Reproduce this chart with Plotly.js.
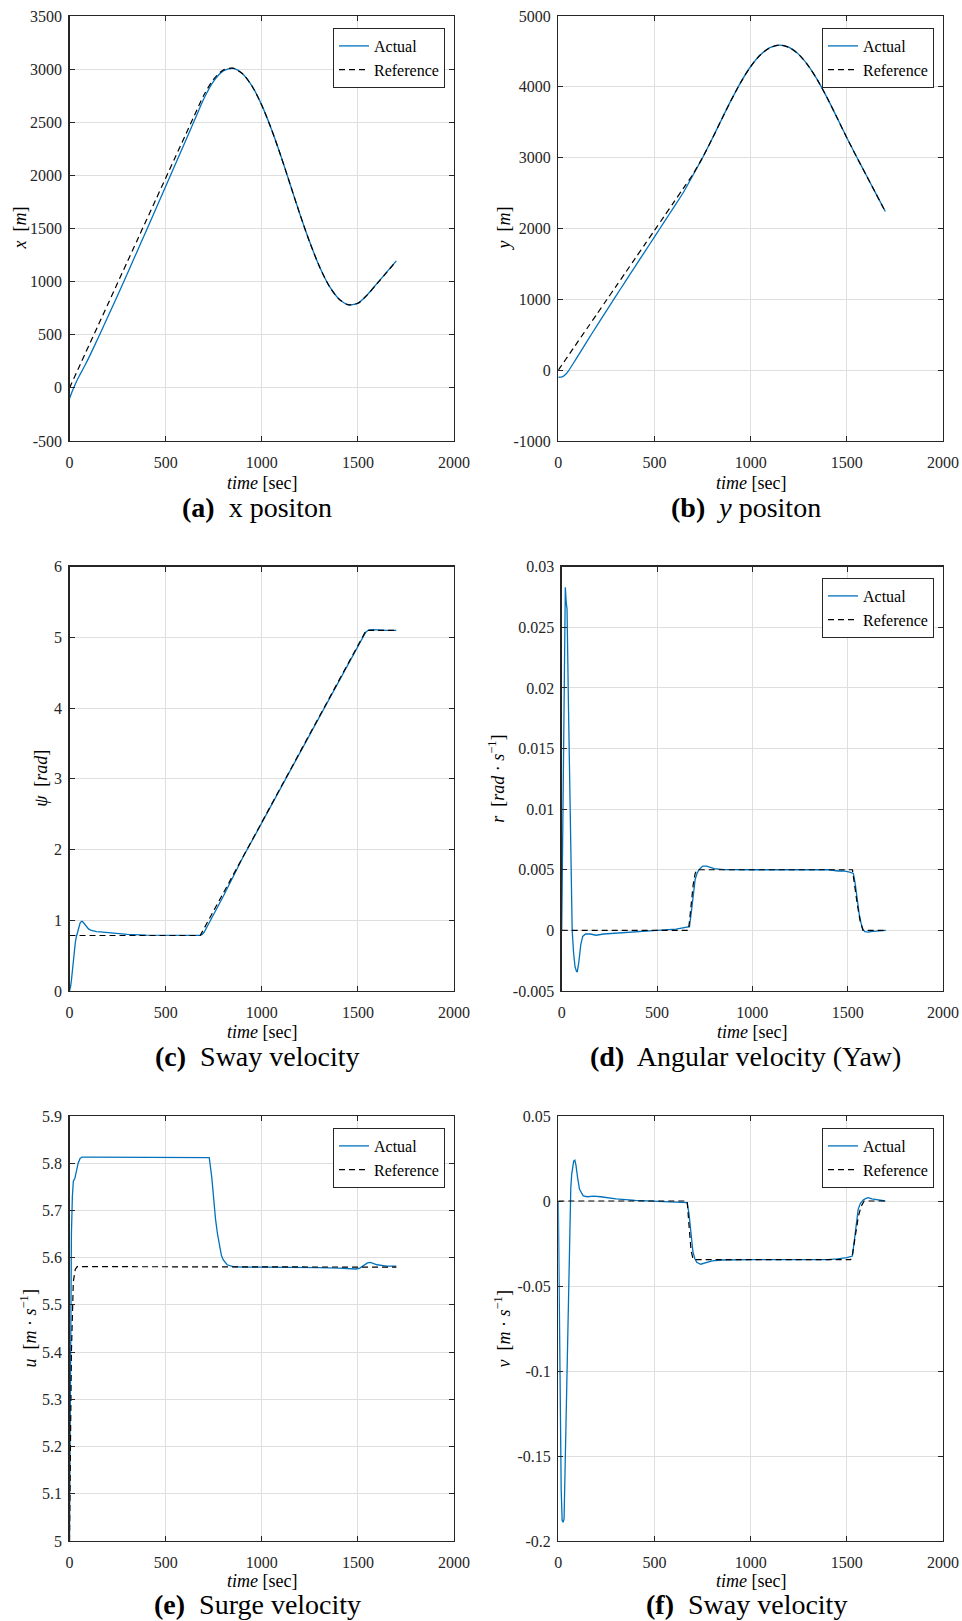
<!DOCTYPE html>
<html><head><meta charset="utf-8">
<script src="https://cdn.plot.ly/plotly-3.0.1.min.js"></script>
<style>html,body{margin:0;padding:0;background:#fff;} #chart{width:962px;height:1621px;}</style>
</head><body><div id="chart"></div>
<script>
// ---------- data ----------
const xTicks = [0, 500, 1000, 1500, 2000];
const xTickText = ["0", "500", "1000", "1500", "2000"];

// (a) / (b) positions
const tPos = [0,10,20,30,40,50,60,80,100,150,200,250,300,350,400,450,500,550,600,650,700,750,800,850,900,950,1000,1050,1100,1150,1200,1250,1300,1350,1400,1450,1500,1550,1600,1650,1700];
const xAct = [-100,-52,-8,35,75,110,143,210,282,475,672,870,1072,1277,1482,1688,1895,2102,2310,2518,2726,2887,2983,3007,2957,2839,2661,2437,2180,1903,1627,1370,1143,962,840,783,797,878,983,1089,1195];
const xRef = [0,39,79,118,158,197,237,316,395,592,789,987,1184,1381,1579,1776,1974,2171,2368,2566,2759,2906,2992,3009,2956,2838,2660,2436,2179,1902,1626,1369,1142,961,839,782,796,877,982,1088,1193];
const yAct = [-100,-99,-94,-80,-55,-20,20,105,192,410,625,838,1048,1258,1466,1674,1882,2090,2298,2508,2752,2999,3267,3546,3819,4071,4287,4450,4553,4590,4557,4458,4297,4085,3834,3560,3282,3016,2758,2499,2241];
const yRef = [0,39,79,118,158,197,237,316,395,592,789,987,1184,1381,1579,1776,1974,2171,2368,2566,2766,3002,3267,3545,3818,4070,4286,4449,4552,4589,4556,4457,4296,4084,3833,3559,3281,3015,2757,2498,2240];
const xPosTicks = [-500,0,500,1000,1500,2000,2500,3000,3500];
const xPosTickText = ["-500","0","500","1000","1500","2000","2500","3000","3500"];
const yPosTicks = [-1000,0,1000,2000,3000,4000,5000];
const yPosTickText = ["-1000","0","1000","2000","3000","4000","5000"];

// (c) heading psi
const tPsiAct = [0,5,10,15,20,25,30,35,40,45,50,55,60,65,70,80,90,100,110,120,140,160,200,250,300,400,500,600,650,680,690,700,710,720,740,760,800,900,1000,1100,1200,1300,1400,1500,1520,1530,1540,1550,1560,1580,1600,1650,1700];
const psiAct = [0,0.05,0.15,0.30,0.45,0.58,0.68,0.76,0.82,0.88,0.93,0.96,0.98,0.985,0.975,0.94,0.90,0.875,0.86,0.85,0.84,0.835,0.825,0.81,0.80,0.79,0.786,0.785,0.785,0.787,0.80,0.83,0.88,0.93,1.03,1.13,1.34,1.88,2.38,2.88,3.38,3.88,4.38,4.88,4.98,5.03,5.07,5.095,5.105,5.11,5.105,5.10,5.10];
const tPsiRef = [0,680,1543,1700];
const psiRef = [0.785,0.785,5.1,5.1];
const psiTicks = [0,1,2,3,4,5,6];
const psiTickText = ["0","1","2","3","4","5","6"];

// (d) yaw rate r
const tRAct = [0,5,10,15,19,24,28,35,42,50,55,62,70,78,82,90,100,110,125,150,180,220,300,400,500,600,650,670,680,690,700,710,720,740,760,780,800,850,900,1000,1100,1200,1300,1400,1450,1480,1510,1530,1540,1550,1560,1570,1580,1590,1600,1610,1620,1650,1700];
const rAct = [0,0.008,0.018,0.025,0.0283,0.027,0.0265,0.019,0.011,0.003,0.0,-0.0018,-0.003,-0.0034,-0.0034,-0.0026,-0.0012,-0.0005,-0.0003,-0.0003,-0.0004,-0.0003,-0.0002,-0.0001,0,0.0001,0.0002,0.0003,0.0015,0.003,0.0042,0.0047,0.005,0.0053,0.0053,0.0052,0.0051,0.00502,0.005,0.005,0.005,0.005,0.005,0.005,0.0049,0.0049,0.0048,0.0047,0.0038,0.0025,0.0014,0.0006,0.0001,-0.0001,-0.00015,-0.00015,-0.0001,-0.00005,0];
const tRRef = [0,665,675,690,700,710,1525,1535,1550,1565,1580,1700];
const rRef = [0,0,0.0015,0.0038,0.0047,0.005,0.005,0.0038,0.0022,0.0008,0,0];
const rTicks = [-0.005,0,0.005,0.01,0.015,0.02,0.025,0.03];
const rTickText = ["-0.005","0","0.005","0.01","0.015","0.02","0.025","0.03"];

// (e) surge velocity u
const tUAct = [0,5,10,15,20,28,35,45,55,65,100,200,300,400,500,600,700,727,740,750,760,770,780,790,800,820,850,900,1000,1100,1200,1300,1400,1450,1490,1510,1530,1550,1565,1580,1600,1650,1700];
const uAct = [5.0,5.45,5.65,5.73,5.762,5.768,5.78,5.80,5.81,5.813,5.813,5.813,5.813,5.813,5.813,5.813,5.813,5.812,5.77,5.72,5.68,5.65,5.625,5.605,5.595,5.585,5.581,5.58,5.58,5.58,5.58,5.579,5.578,5.577,5.576,5.578,5.584,5.589,5.59,5.588,5.585,5.582,5.582];
const tURef = [0,10,20,30,40,100,500,700,1000,1700];
const uRef = [5.0,5.4,5.55,5.575,5.581,5.581,5.581,5.58,5.58,5.58];
const uTicks = [5,5.1,5.2,5.3,5.4,5.5,5.6,5.7,5.8,5.9];
const uTickText = ["5","5.1","5.2","5.3","5.4","5.5","5.6","5.7","5.8","5.9"];

// (f) sway velocity v
const tVAct = [0,5,10,15,20,25,30,35,40,45,50,55,60,65,70,75,80,86,92,100,110,120,130,150,185,220,300,400,500,600,650,670,680,690,700,710,720,740,760,800,850,900,1000,1100,1200,1300,1400,1450,1500,1529,1540,1550,1559,1570,1585,1600,1611,1630,1660,1700];
const vAct = [0,-0.07,-0.13,-0.17,-0.188,-0.189,-0.187,-0.158,-0.129,-0.1,-0.07,-0.04,-0.012,0.008,0.016,0.021,0.0235,0.024,0.021,0.014,0.007,0.0049,0.003,0.0025,0.0029,0.0025,0.0012,0.0004,0,-0.0003,-0.0006,-0.001,-0.008,-0.02,-0.03,-0.034,-0.036,-0.0372,-0.0365,-0.0352,-0.0347,-0.0345,-0.0345,-0.0345,-0.0345,-0.0345,-0.0345,-0.034,-0.0333,-0.0324,-0.022,-0.011,-0.0049,-0.0015,0.0006,0.0015,0.002,0.0012,0.0005,0];
const tVRef = [0,670,680,690,700,705,1520,1530,1545,1560,1575,1590,1700];
const vRef = [0,0,-0.015,-0.029,-0.0338,-0.0345,-0.0345,-0.031,-0.02,-0.009,-0.003,0,0];
const vTicks = [-0.2,-0.15,-0.1,-0.05,0,0.05];
const vTickText = ["-0.2","-0.15","-0.1","-0.05","0","0.05"];

// ---------- layout helpers ----------
const W = 962, H = 1621;
const px = v => v / W;
const py = v => 1 - v / H;
const BLUE = '#0072BD';
const AX = '#262626';
const FONT = '"Liberation Serif", "Times New Roman", serif';

function trAct(t, y, xa, ya, leg, show) {
  return {x: t, y: y, type: 'scatter', mode: 'lines', name: 'Actual',
    xaxis: xa, yaxis: ya, legend: leg, showlegend: show,
    line: {color: BLUE, width: 1.3, shape: 'linear'}};
}
function trRef(t, y, xa, ya, leg, show) {
  return {x: t, y: y, type: 'scatter', mode: 'lines', name: 'Reference',
    xaxis: xa, yaxis: ya, legend: leg, showlegend: show,
    line: {color: '#000000', width: 1.2, dash: '6px,4px', shape: 'linear'}};
}
const data = [];
function addPanel(tA, yA, tR, yR, n, leg, spline) {
  const xa = n === 1 ? 'x' : 'x' + n, ya = n === 1 ? 'y' : 'y' + n;
  const a = trAct(tA, yA, xa, ya, leg, !!leg);
  const r = trRef(tR, yR, xa, ya, leg, !!leg);
  if (spline) { a.line.shape = 'spline'; r.line.shape = 'spline'; a.line.smoothing = 0.8; r.line.smoothing = 0.8; }
  data.push(a, r);
}
addPanel(tPos, xAct, tPos, xRef, 1, 'legend', true);
addPanel(tPos, yAct, tPos, yRef, 2, 'legend2', true);
addPanel(tPsiAct, psiAct, tPsiRef, psiRef, 3, null, false);
addPanel(tRAct, rAct, tRRef, rRef, 4, 'legend3', false);
addPanel(tUAct, uAct, tURef, uRef, 5, 'legend4', false);
addPanel(tVAct, vAct, tVRef, vRef, 6, 'legend5', false);

function xAxis(l, r, anchor) {
  return {domain: [px(l), px(r)], anchor: anchor, range: [0, 2000],
    tickmode: 'array', tickvals: xTicks, ticktext: xTickText,
    ticks: 'inside', ticklen: 5, tickwidth: 1, tickcolor: AX,
    showline: true, linecolor: AX, linewidth: 1.3, mirror: 'ticks',
    showgrid: true, gridcolor: '#dfdfdf', gridwidth: 1, zeroline: false,
    tickfont: {family: FONT, size: 16, color: AX}, ticklabelstandoff: 6,
    automargin: false, fixedrange: true};
}
function yAxis(t, b, anchor, range, vals, text) {
  return {domain: [py(b), py(t)], anchor: anchor, range: range,
    tickmode: 'array', tickvals: vals, ticktext: text,
    ticks: 'inside', ticklen: 5, tickwidth: 1, tickcolor: AX,
    showline: true, linecolor: AX, linewidth: 1.3, mirror: 'ticks',
    showgrid: true, gridcolor: '#dfdfdf', gridwidth: 1, zeroline: false,
    tickfont: {family: FONT, size: 16, color: AX}, ticklabelstandoff: 3,
    automargin: false, fixedrange: true};
}
const L1 = 69.5, R1 = 454, L2 = 558.3, R2 = 943, L4 = 561.7;
const T1 = 16, B1 = 441, T2 = 566.7, B2 = 991, T3 = 1116, B3 = 1541;

function legendAt(right, top) {
  return {x: px(right), y: py(top), xanchor: 'right', yanchor: 'top',
    xref: 'paper', yref: 'paper',
    bgcolor: '#ffffff', bordercolor: AX, borderwidth: 1,
    font: {family: FONT, size: 16, color: '#000'}, itemwidth: 30, tracegroupgap: 0};
}

const ann = [];
function txt(x, y, text, size, angle) {
  ann.push({xref: 'paper', yref: 'paper', x: px(x), y: py(y), text: text,
    showarrow: false, xanchor: 'center', yanchor: 'middle', textangle: angle || 0,
    borderpad: 0, font: {family: FONT, size: size, color: '#000'}});
}
// x-axis titles
const xt = '<i>time</i> [sec]';
txt((L1 + R1) / 2, 483, xt, 18); txt((L2 + R2) / 2, 483, xt, 18);
txt((L1 + R1) / 2, 1032, xt, 18); txt((L4 + R2) / 2, 1032, xt, 18);
txt((L1 + R1) / 2, 1581, xt, 18); txt((L2 + R2) / 2, 1581, xt, 18);
// y-axis titles
txt(19, (T1 + B1) / 2, '<i>x</i>\u00a0 [<i>m</i>]', 18, -90);
txt(503, (T1 + B1) / 2, '<i>y</i>\u00a0 [<i>m</i>]', 18, -90);
txt(41, (T2 + B2) / 2, '<i>ψ</i>\u00a0 [<i>rad</i>]', 18, -90);
txt(497, (T2 + B2) / 2, '<i>r</i>\u00a0 [<i>rad</i> · <i>s</i><sup>−1</sup>]', 18, -90);
txt(29, (T3 + B3) / 2, '<i>u</i>\u00a0 [<i>m</i> · <i>s</i><sup>−1</sup>]', 18, -90);
txt(503, (T3 + B3) / 2, '<i>v</i>\u00a0 [<i>m</i> · <i>s</i><sup>−1</sup>]', 18, -90);
// captions
txt(257, 507, '<b>(a)</b>\u00a0 x positon', 28);
txt(746, 507, '<b>(b)</b>\u00a0 <i>y</i> positon', 28);
txt(257, 1056, '<b>(c)</b>\u00a0 Sway velocity', 28);
txt(745, 1056, '<b>(d)</b>\u00a0 Angular velocity (Yaw)', 28);
txt(257, 1604, '<b>(e)</b>\u00a0 Surge velocity', 28);
txt(746, 1604, '<b>(f)</b>\u00a0 Sway velocity', 28);

const layout = {
  width: W, height: H, margin: {l: 0, r: 0, t: 0, b: 0},
  paper_bgcolor: '#ffffff', plot_bgcolor: '#ffffff',
  font: {family: FONT, color: AX},
  xaxis: xAxis(L1, R1, 'y'), yaxis: yAxis(T1, B1, 'x', [-500, 3500], xPosTicks, xPosTickText),
  xaxis2: xAxis(L2, R2, 'y2'), yaxis2: yAxis(T1, B1, 'x2', [-1000, 5000], yPosTicks, yPosTickText),
  xaxis3: xAxis(L1, R1, 'y3'), yaxis3: yAxis(T2, B2, 'x3', [0, 6], psiTicks, psiTickText),
  xaxis4: xAxis(L4, R2, 'y4'), yaxis4: yAxis(T2, B2, 'x4', [-0.005, 0.03], rTicks, rTickText),
  xaxis5: xAxis(L1, R1, 'y5'), yaxis5: yAxis(T3, B3, 'x5', [5, 5.9], uTicks, uTickText),
  xaxis6: xAxis(L2, R2, 'y6'), yaxis6: yAxis(T3, B3, 'x6', [-0.2, 0.05], vTicks, vTickText),
  legend: legendAt(445, 28),
  legend2: legendAt(934, 28),
  legend3: legendAt(934, 578),
  legend4: legendAt(445, 1128),
  legend5: legendAt(934, 1128),
  annotations: ann,
  showlegend: true
};
Plotly.newPlot('chart', data, layout, {staticPlot: true, displayModeBar: false});
</script></body></html>
